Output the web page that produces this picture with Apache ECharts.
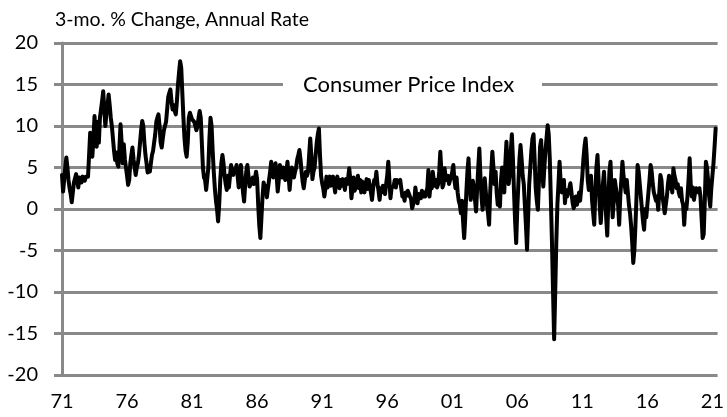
<!DOCTYPE html>
<html>
<head>
<meta charset="utf-8">
<script src="https://cdn.jsdelivr.net/npm/echarts@6/dist/echarts.min.js"></script>
<style>
html,body{margin:0;padding:0;background:#fff;}
#chart{width:727px;height:417px;}
</style>
</head>
<body>
<div id="chart"></div>
<script>
// Monthly CPI, 3-month % change at annual rate, Jan 1971 .. Apr 2021
const startYear = 1971;
const cpi3m = [
  // 1971
  4.1, 2.1, 3.5, 5.0, 6.2, 5.0, 3.5, 2.5, 1.8, 0.8, 2.0, 3.2,
  // 1972
  3.0, 4.2, 3.5, 2.6, 3.8, 3.9, 3.2, 3.9, 4.0, 3.4, 3.9, 4.0,
  // 1973
  3.9, 6.5, 9.2, 8.0, 6.3, 8.5, 11.2, 9.0, 7.5, 10.5, 8.0, 11.0,
  // 1974
  12.0, 13.0, 14.2, 12.0, 10.0, 11.5, 12.5, 13.8, 12.5, 11.0, 10.0, 8.5,
  // 1975
  7.0, 5.9, 6.8, 5.5, 5.1, 7.5, 10.2, 8.0, 5.5, 7.8, 6.0, 5.0,
  // 1976
  4.0, 2.9, 3.5, 5.5, 6.5, 7.4, 6.0, 5.0, 4.1, 5.0, 5.5, 6.5,
  // 1977
  8.0, 9.5, 10.6, 10.0, 8.0, 6.5, 5.5, 4.4, 5.0, 4.5, 5.5, 6.5,
  // 1978
  7.0, 8.0, 9.0, 10.5, 11.0, 11.4, 10.0, 8.0, 7.4, 8.5, 9.5, 10.0,
  // 1979
  10.5, 12.0, 13.5, 14.0, 14.4, 13.0, 12.0, 12.5, 11.8, 11.4, 13.0, 15.0,
  // 1980
  16.5, 17.8, 17.0, 14.0, 11.0, 8.5, 7.0, 6.3, 8.0, 11.0, 11.6, 11.2,
  // 1981
  10.8, 10.8, 10.5, 10.4, 9.5, 10.0, 11.0, 11.8, 11.0, 8.0, 5.0, 3.8,
  // 1982
  3.5, 2.3, 2.1, 5.0, 8.5, 11.0, 10.0, 7.0, 4.5, 2.5, 1.0, 0.0,
  // 1983
  -1.5, 0.5, 3.5, 5.5, 6.5, 5.5, 4.0, 3.0, 2.3, 4.0, 2.6, 4.0,
  // 1984
  5.3, 4.5, 4.1, 4.8, 4.5, 5.3, 4.0, 2.6, 4.0, 5.3, 3.5, 2.0,
  // 1985
  0.9, 3.0, 4.5, 5.3, 4.0, 2.7, 3.0, 3.5, 3.8, 3.0, 3.6, 4.5,
  // 1986
  3.6, 0.5, -2.0, -3.5, -1.0, 1.5, 3.2, 2.5, 2.8, 1.4, 2.5, 3.5,
  // 1987
  4.5, 5.7, 4.8, 3.8, 4.5, 5.5, 4.0, 2.1, 3.5, 5.3, 4.5, 3.8,
  // 1988
  5.0, 4.0, 3.5, 4.5, 5.7, 4.0, 2.3, 4.0, 5.0, 4.5, 3.8, 4.5,
  // 1989
  5.0, 6.0, 6.5, 7.1, 6.0, 4.5, 3.3, 2.5, 3.5, 4.5, 4.0, 4.5,
  // 1990
  6.5, 8.5, 6.5, 3.6, 4.5, 5.0, 6.5, 8.0, 9.0, 9.7, 6.5, 4.0,
  // 1991
  3.1, 2.5, 1.5, 2.5, 3.9, 2.6, 3.5, 3.9, 2.8, 3.0, 3.9, 3.0,
  // 1992
  2.0, 3.5, 3.9, 3.2, 2.5, 3.5, 2.8, 3.6, 3.0, 2.3, 3.6, 3.0,
  // 1993
  3.8, 4.9, 3.5, 1.3, 2.5, 3.8, 2.2, 2.0, 3.0, 4.0, 2.5, 3.5,
  // 1994
  2.0, 3.3, 3.5, 2.0, 2.8, 3.6, 2.4, 3.5, 3.3, 2.0, 1.1, 2.5,
  // 1995
  3.5, 3.2, 4.5, 3.0, 2.2, 1.1, 2.5, 2.0, 2.8, 2.5, 1.8, 3.0,
  // 1996
  4.0, 5.7, 3.5, 1.3, 2.5, 2.3, 2.8, 3.5, 2.6, 3.5, 3.2, 3.0,
  // 1997
  3.5, 2.5, 1.5, 1.8, 1.0, 2.0, 1.6, 2.2, 2.0, 1.5, 1.2, 0.1,
  // 1998
  0.1, 1.0, 2.6, 1.5, 0.7, 1.8, 2.0, 1.3, 2.2, 1.5, 2.0, 1.5,
  // 1999
  1.5, 2.5, 4.7, 1.5, 3.0, 2.5, 4.5, 3.5, 2.8, 3.5, 2.6, 3.0,
  // 2000
  4.5, 6.9, 4.5, 2.6, 3.0, 4.9, 3.5, 3.3, 4.0, 3.0, 3.5, 3.8,
  // 2001
  4.5, 5.3, 3.5, 2.5, 3.8, 2.0, 1.0, 0.5, -0.5, 1.0, -1.5, -3.5,
  // 2002
  -1.0, 2.0, 4.5, 6.1, 3.0, 1.1, 2.0, 3.4, 2.5, 2.5, -0.3, 2.5,
  // 2003
  5.0, 7.3, 4.0, 1.5, -0.1, 1.5, 3.7, 2.0, 0.5, -0.5, -1.9, 2.0,
  // 2004
  4.5, 6.9, 5.0, 3.0, 4.5, 2.0, 0.5, 1.0, 0.3, 3.5, 5.0, 2.5,
  // 2005
  2.0, 5.5, 8.1, 5.0, 3.0, 4.0, 7.0, 9.0, 6.0, 2.0, -1.5, -4.1,
  // 2006
  0.0, 3.0, 6.0, 7.7, 6.0, 4.0, 3.0, 0.5, -2.0, -4.9, -1.0, 3.0,
  // 2007
  5.0, 7.0, 8.5, 9.0, 6.0, 2.5, 1.0, -0.1, 3.3, 7.5, 8.3, 5.0,
  // 2008
  2.7, 5.0, 7.1, 8.5, 10.1, 9.0, 6.0, 1.0, -4.0, -10.0, -15.7, -10.0,
  // 2009
  -4.0, 0.5, 3.0, 5.7, 3.3, 2.0, 2.5, 3.5, 0.7, 2.3, 1.5, 2.0,
  // 2010
  2.5, 3.1, 2.0, 0.8, 0.1, 0.5, 1.5, 0.5, 1.0, 2.0, 1.0, 2.5,
  // 2011
  4.0, 6.0, 7.5, 8.5, 6.5, 3.5, 2.3, 3.5, 4.0, 1.0, -0.5, -1.9,
  // 2012
  2.0, 5.0, 6.5, 3.5, 0.5, -1.7, 0.5, 3.0, 4.5, 2.0, -1.0, -3.2,
  // 2013
  1.0, 4.5, 5.7, 2.0, -1.0, 1.0, 3.5, 2.5, 1.5, 0.5, -1.9, 1.5,
  // 2014
  3.5, 5.7, 4.0, 3.0, 2.0, 3.5, 2.0, 0.5, -0.5, -2.0, -4.0, -6.5,
  // 2015
  -5.0, -2.0, 1.5, 5.3, 4.5, 3.0, 1.5, 0.0, -1.5, -2.5, 0.0, -1.0,
  // 2016
  0.5, 2.0, 3.5, 5.3, 4.5, 3.0, 2.0, 1.9, 1.0, 1.5, -0.1, 2.0,
  // 2017
  4.1, 3.5, 1.5, 0.5, -0.5, 0.5, 1.5, 3.0, 4.0, 2.5, 3.0, 2.0,
  // 2018
  4.9, 4.0, 3.5, 2.5, 3.0, 2.0, 1.5, 2.5, 1.0, 0.5, -1.9, 0.5,
  // 2019
  0.0, 1.5, 3.5, 6.1, 3.0, 1.5, 2.6, 1.1, 2.0, 2.5, 2.6, 2.0,
  // 2020
  2.5, 1.5, -1.0, -3.5, -3.0, 1.0, 5.7, 5.0, 3.5, 1.5, 0.3, 2.5,
  // 2021
  4.0, 5.5, 7.5, 9.7
];
const xTickLabels = ['71','76','81','86','91','96','01','06','11','16','21'];
const xTickYears = [1971,1976,1981,1986,1991,1996,2001,2006,2011,2016,2021];
const yTickLabels = ['-20','-15','-10','-5','0','5','10','15','20'];

const seriesData = cpi3m.map((v, i) => [startYear + i / 12, v]);
const FONT = 'Lato';
const chart = echarts.init(document.getElementById('chart'));
chart.setOption({
  animation: false,
  backgroundColor: '#fff',
  grid: { left: 62, right: 8, top: 43, bottom: 42, containLabel: false },
  xAxis: {
    type: 'value', min: 1971, max: 2021.4, interval: 5,
    axisLine: { show: false }, axisTick: { show: false }, splitLine: { show: false },
    axisLabel: {
      margin: 17, fontFamily: FONT, fontSize: 20, color: '#000',
      showMaxLabel: false,
      formatter: function (v) {
        const k = xTickYears.indexOf(Math.round(v));
        return (Math.abs(v - Math.round(v)) < 1e-6 && k >= 0) ? xTickLabels[k] : '';
      }
    }
  },
  yAxis: {
    type: 'value', min: -20, max: 20, interval: 5,
    axisLine: { show: true, onZero: false, lineStyle: { color: '#898989', width: 3 } },
    axisTick: { show: true, length: 8, lineStyle: { color: '#898989', width: 3 } },
    splitLine: { show: true, lineStyle: { color: '#898989', width: 3 } },
    axisLabel: {
      margin: 24, fontFamily: FONT, fontSize: 20, color: '#000',
      formatter: function (v) { return yTickLabels[Math.round((v + 20) / 5)]; }
    }
  },
  graphic: [
    { type: 'text', left: 55, top: 10, z: 100,
      style: { text: '3-mo. % Change, Annual Rate', fontFamily: FONT, fontSize: 19.5, fill: '#000' } },
    { type: 'rect', z: 99, shape: { x: 283, y: 80, width: 259, height: 9 }, style: { fill: '#fff' } },
    { type: 'text', left: 303, top: 74, z: 100,
      style: { text: 'Consumer Price Index', fontFamily: FONT, fontSize: 22, fill: '#000' } }
  ],
  series: [{
    type: 'line', data: seriesData, showSymbol: false, symbol: 'none',
    lineStyle: { color: '#000', width: 4, join: 'round', cap: 'round' },
    z: 5
  }]
});
</script>
</body>
</html>
